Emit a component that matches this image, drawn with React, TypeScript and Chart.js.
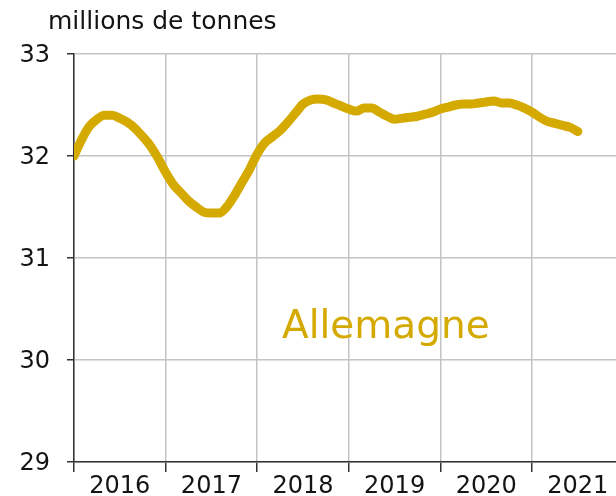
import React, { useEffect, useRef } from "react";
import { Chart, registerables } from "chart.js";

Chart.register(...registerables);

const MONTHS = [
  0, 1, 2, 3, 4, 5, 6, 7, 8, 9, 10, 11,
  12, 13, 14, 15, 16, 17, 18, 19, 20, 21, 22, 23,
  24, 25, 26, 27, 28, 29, 30, 31, 32, 33, 34, 35,
  36, 37, 38, 39, 40, 41, 42, 43, 44, 45, 46, 47,
  48, 49, 50, 51, 52, 53, 54, 55, 56, 57, 58, 59,
  60, 61, 62, 63, 64, 65, 66,
];

const ALLEMAGNE = [
  32.0, 32.16, 32.29, 32.36, 32.4, 32.4, 32.37, 32.33, 32.27, 32.19, 32.1, 31.98,
  31.84, 31.72, 31.64, 31.56, 31.5, 31.45, 31.44, 31.44, 31.5, 31.61, 31.74, 31.87,
  32.02, 32.13, 32.19, 32.25, 32.33, 32.42, 32.51, 32.55, 32.56, 32.55, 32.52, 32.49,
  32.46, 32.44, 32.47, 32.47, 32.43, 32.39, 32.36, 32.37, 32.38, 32.39, 32.41, 32.43,
  32.46, 32.48, 32.5, 32.51, 32.51, 32.52, 32.53, 32.54, 32.52, 32.52, 32.5, 32.47,
  32.43, 32.38, 32.34, 32.32, 32.3, 32.28, 32.24,
];

const YEARS = ["2016", "2017", "2018", "2019", "2020", "2021"];
const Y_TICKS = [29, 30, 31, 32, 33];

const GOLD = "#D5AA00";
const GRID = "#c4c4c4";
const AXIS = "#333333";
const TEXT = "#141414";
const FONT = "'DejaVu Sans', sans-serif";

const textPlugin = {
  id: "texts",
  afterDraw(chart: any) {
    const ctx = chart.ctx;
    ctx.save();
    ctx.textBaseline = "alphabetic";
    ctx.textAlign = "left";
    ctx.fillStyle = TEXT;
    ctx.font = `25px ${FONT}`;
    ctx.fillText("millions de tonnes", 48, 29);
    ctx.fillStyle = GOLD;
    ctx.font = `39px ${FONT}`;
    ctx.fillText("Allemagne", 282, 338);
    ctx.restore();
  },
};

export default function App() {
  const ref = useRef<HTMLCanvasElement | null>(null);

  useEffect(() => {
    document.body.style.margin = "0";
    const canvas = ref.current;
    if (!canvas) return;
    const chart = new Chart(canvas, {
      type: "line",
      data: {
        datasets: [
          {
            label: "Allemagne",
            data: MONTHS.map((m, i) => ({ x: m, y: ALLEMAGNE[i] })),
            borderColor: GOLD,
            borderWidth: 9,
            pointRadius: 0,
            tension: 0.4,
            cubicInterpolationMode: "monotone",
            borderCapStyle: "round",
            borderJoinStyle: "round",
            fill: false,
          },
        ],
      },
      options: {
        animation: false,
        responsive: false,
        maintainAspectRatio: false,
        layout: { padding: { top: 54, left: 0, right: 0, bottom: 0 } },
        plugins: {
          legend: { display: false },
          tooltip: { enabled: false },
          title: { display: false },
        },
        scales: {
          x: {
            type: "linear",
            min: 0,
            max: 71,
            afterBuildTicks(scale: any) {
              const t: any[] = [];
              for (let i = 0; i < YEARS.length; i++) {
                t.push({ value: i * 12 });
                t.push({ value: i * 12 + 6 });
              }
              scale.ticks = t;
            },
            afterFit(scale: any) {
              scale.height = 34;
            },
            ticks: {
              autoSkip: false,
              maxRotation: 0,
              minRotation: 0,
              padding: 3,
              color: TEXT,
              font: { family: FONT, size: 24, lineHeight: 1 },
              callback(value: any) {
                const v = Number(value);
                if (v % 12 === 6) return YEARS[Math.floor(v / 12)];
                return "";
              },
            },
            grid: {
              drawTicks: true,
              tickLength: 10,
              lineWidth: 1.5,
              color: (c: any) => (c.tick && c.tick.value % 12 === 0 ? GRID : "rgba(0,0,0,0)"),
              tickColor: (c: any) => (c.tick && c.tick.value % 12 === 0 ? AXIS : "rgba(0,0,0,0)"),
            },
            border: { display: true, color: AXIS, width: 1.5 },
          },
          y: {
            type: "linear",
            min: 29,
            max: 33,
            afterBuildTicks(scale: any) {
              scale.ticks = Y_TICKS.map((v) => ({ value: v }));
            },
            afterFit(scale: any) {
              scale.width = 74;
            },
            ticks: {
              padding: 17,
              labelOffset: 2,
              color: TEXT,
              font: { family: FONT, size: 24, lineHeight: 1 },
              callback: (v: any) => String(v),
            },
            grid: {
              drawTicks: true,
              tickLength: 7,
              lineWidth: 1.5,
              color: GRID,
              tickColor: AXIS,
            },
            border: { display: true, color: AXIS, width: 1.5 },
          },
        },
      },
      plugins: [textPlugin],
    });
    return () => chart.destroy();
  }, []);

  return (
    <div style={{ width: 616, height: 496 }}>
      <canvas ref={ref} width={616} height={496} style={{ display: "block" }} />
    </div>
  );
}
